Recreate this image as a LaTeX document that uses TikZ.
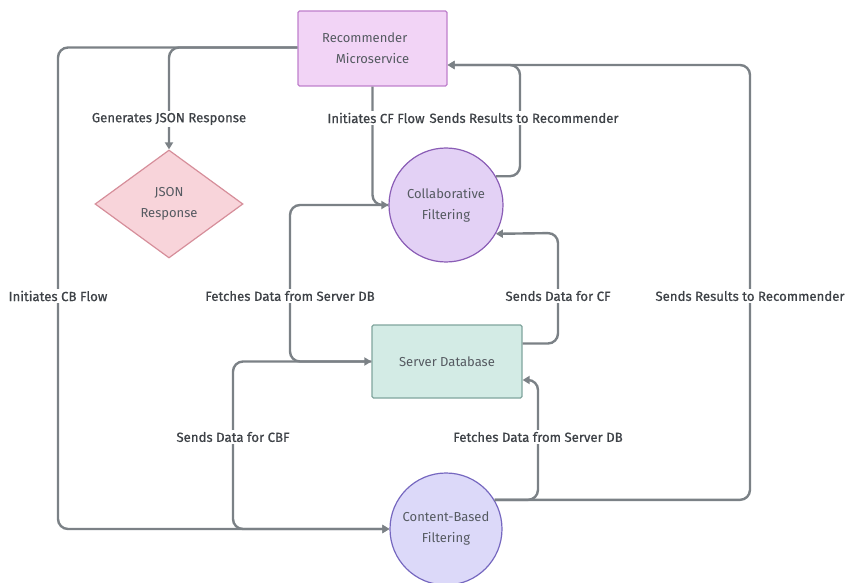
\documentclass[tikz,border=0pt]{standalone}
\usepackage{fontspec}
\setmainfont{Fira Sans}
\newfontfamily\lblfont{Fira Sans}[FakeBold=0.7]
\usetikzlibrary{arrows.meta,shapes.geometric}
\definecolor{edgec}{HTML}{7B8186}
\definecolor{labc}{HTML}{3E4247}
\definecolor{nodec}{HTML}{555A61}
\definecolor{recf}{HTML}{F2D4F6}
\definecolor{recd}{HTML}{BF7FCC}
\definecolor{jsf}{HTML}{F8D4DA}
\definecolor{jsd}{HTML}{D68E9A}
\definecolor{cff}{HTML}{E3D1F5}
\definecolor{cfd}{HTML}{8A5DB6}
\definecolor{dbf}{HTML}{D3EBE5}
\definecolor{dbd}{HTML}{80A59D}
\definecolor{cbf}{HTML}{DCD9F9}
\definecolor{cbd}{HTML}{7668C0}
\tikzset{
  edge/.style={draw=edgec, line width=2.4pt, rounded corners=10pt, -{Triangle[length=7pt,width=8pt]}},
  lbl/.style={fill=white, text=labc, font=\lblfont\fontsize{13.2}{15}\selectfont, inner sep=2pt},
  ntext/.style={text=nodec, font=\fontsize{13}{21}\selectfont, align=center},
  recbox/.style={ntext, draw=recd, fill=recf, line width=1.2pt, minimum width=149pt, minimum height=75pt, rounded corners=1.5pt},
  jsbox/.style={ntext, draw=jsd, fill=jsf, line width=1.2pt, diamond, minimum width=148pt, minimum height=108pt, inner sep=0pt},
  cfbox/.style={ntext, draw=cfd, fill=cff, line width=1.2pt, circle, minimum size=114pt, inner sep=0pt},
  cbbox/.style={ntext, draw=cbd, fill=cbf, line width=1.2pt, circle, minimum size=112pt, inner sep=0pt},
  dbbox/.style={ntext, draw=dbd, fill=dbf, line width=1.2pt, minimum width=150pt, minimum height=73pt, rounded corners=1.5pt},
}
\begin{document}
\begin{tikzpicture}[x=1pt,y=-1pt]
\useasboundingbox (0,0) rectangle (847,583);
% nodes
\node[recbox] (rec) at (372.5,48.5) {Recommender\hspace*{1.2em}\\Microservice};
\node[jsbox] (json) at (169,204) {JSON\\Response};
\node[cfbox] (cf) at (446,205) {Collaborative\\Filtering};
\node[dbbox] (db) at (447,361.5) {Server Database};
\node[cbbox] (cb) at (446,529) {Content-Based\\Filtering};
% turning points
\coordinate (c1) at (58,47.5);
\coordinate (c4) at (520,65);
\coordinate (c5) at (558,233);
\coordinate (c6) at (290,205);
\coordinate (c7) at (538,380);
\coordinate (c8) at (233,361.5);
\coordinate (c9) at (750,65);
% edges
\draw[edge] ([yshift=1pt]rec.west) -| (json.north);
\draw[edge] ([yshift=1pt]rec.west) -- (c1) |- (cb.west);
\draw[edge] (rec.south) |- (cf.west);
\draw[edge] (cf.30) -| (c4) -- ([yshift=-16.5pt]rec.east);
\draw[edge] ([yshift=18pt]db.east) -| (c5) -- (cf.-30);
\draw[edge] (cf.west) -- (c6) |- (db.west);
\draw[edge] (cb.31) -| (c7) -- ([yshift=-18.5pt]db.east);
\draw[edge] (db.west) -- (c8) |- (cb.west);
\draw[edge] (cb.31) -| (c9) -- ([yshift=-16.5pt]rec.east);
% labels
\node[lbl] (l1) at (169,119) {Generates JSON Response};
\node[lbl] (l2) at (58,296) {Initiates CB Flow};
\node[lbl] (l3) at (376,118) {Initiates CF Flow};
\node[lbl] (l4) at (524,118) {Sends Results to Recommender};
\node[lbl] (l5) at (290,296) {Fetches Data from Server DB};
\node[lbl] (l6) at (558,296) {Sends Data for CF};
\node[lbl] (l7) at (750,296) {Sends Results to Recommender};
\node[lbl] (l8) at (233,437) {Sends Data for CBF};
\node[lbl] (l9) at (538,437) {Fetches Data from Server DB};
\end{tikzpicture}
\end{document}
